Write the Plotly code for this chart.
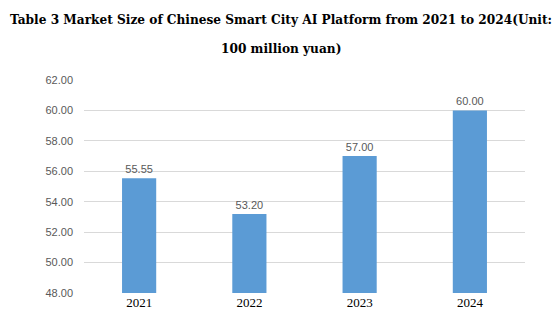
import plotly.graph_objects as go

years = ["2021", "2022", "2023", "2024"]
values = [55.55, 53.20, 57.00, 60.00]
title_line1 = "Table 3 Market Size of Chinese Smart City AI Platform from 2021 to 2024(Unit:"
title_line2 = "100 million yuan)"

serif = "Liberation Serif, serif"
title_font = "DejaVu Serif Condensed, DejaVu Serif, serif"

fig = go.Figure(go.Bar(
    x=years, y=values,
    marker=dict(color="#5B9BD5", line=dict(width=0)),
    width=0.31,
    text=[f"{v:.2f}" for v in values],
    textposition="outside",
    textfont=dict(family="Liberation Sans", size=11, color="#595959"),
    cliponaxis=False,
))

plot_h = 322 - 80 - 27
plot_w = 559 - 84 - 34
def py(pix):
    return (322 - 27 - pix) / plot_h
cx = (280.5 - 84) / plot_w

fig.update_layout(
    width=559, height=322,
    margin=dict(l=84, r=34, t=80, b=27),
    paper_bgcolor="white", plot_bgcolor="white",
    showlegend=False,
    xaxis=dict(showgrid=False, showline=False, ticks="",
               tickfont=dict(family=serif, size=13, color="#000000")),
    yaxis=dict(range=[48, 62], dtick=2, tickformat=".2f",
               showgrid=True, gridcolor="#D9D9D9", gridwidth=1,
               zeroline=False, showline=False, ticks="",
               ticklabelstandoff=10,
               tickfont=dict(family="Liberation Sans", size=11, color="#595959")),
    annotations=[
        dict(text="<b>" + title_line1 + "</b>", x=cx, y=py(18), xref="paper", yref="paper",
             yanchor="middle", showarrow=False,
             font=dict(family=title_font, size=13.5, color="#000000")),
        dict(text="<b>" + title_line2 + "</b>", x=cx, y=py(48), xref="paper", yref="paper",
             yanchor="middle", showarrow=False,
             font=dict(family=title_font, size=13.5, color="#000000")),
    ],
)

fig.write_html("out.html")
